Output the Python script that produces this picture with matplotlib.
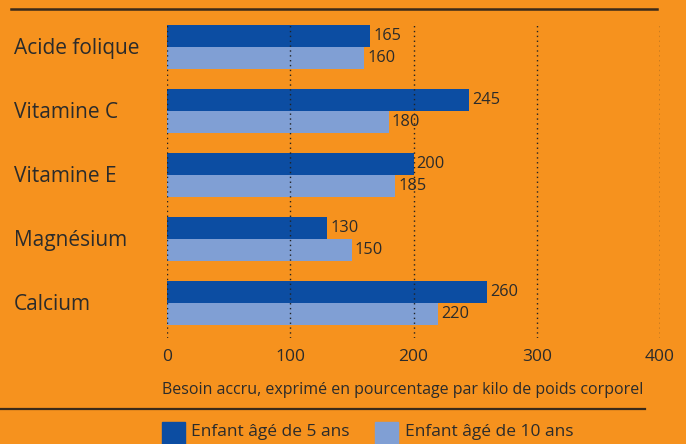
import matplotlib.pyplot as plt
from matplotlib.patches import Rectangle
from matplotlib.lines import Line2D
import matplotlib.transforms as mtransforms

categories = ['Acide folique', 'Vitamine C', 'Vitamine E', 'Magnésium', 'Calcium']
age5 = [165, 245, 200, 130, 260]
age10 = [160, 180, 185, 150, 220]
ticks = [0, 100, 200, 300, 400]
series_names = ['Enfant âgé de 5 ans', 'Enfant âgé de 10 ans']

bg = '#F6921E'
dark = '#0C4DA2'
light = '#809FD4'
txt = '#2b2b2b'

plt.rcParams['font.family'] = ['Open Sans', 'DejaVu Sans']

fig = plt.figure(figsize=(6.86, 4.44), dpi=100, facecolor=bg)
W, H = 686, 444
ax = fig.add_axes([167 / W, 1 - 338 / H, (660 - 167) / W, (338 - 22) / H])
ax.set_facecolor(bg)

h = 0.345
y = list(range(len(categories)))
ax.barh([v - h / 2 for v in y], age5, height=h, color=dark, zorder=2)
ax.barh([v + h / 2 for v in y], age10, height=h, color=light, zorder=2)

for i in y:
    ax.text(age5[i] + 2.5, i - h / 2, str(age5[i]), va='center', ha='left',
            fontsize=11.8, color=txt, zorder=4)
    ax.text(age10[i] + 2.5, i + h / 2, str(age10[i]), va='center', ha='left',
            fontsize=11.8, color=txt, zorder=4)

ax.set_xlim(0, 400)
ax.set_ylim(len(categories) - 0.45, -0.39)
ax.set_xticks(ticks)
ax.set_yticks([])
for t in ticks:
    ax.axvline(t, color='#222222', linestyle=(0, (1, 2.5)), linewidth=1.0, zorder=3)
for s in ax.spines.values():
    s.set_visible(False)
ax.tick_params(axis='x', length=0, pad=8, labelsize=12.5, labelcolor=txt)
ax.set_xlabel('Besoin accru, exprimé en pourcentage par kilo de poids corporel',
              fontsize=11.5, color=txt, loc='left')
ax.xaxis.set_label_coords(-5 / 493, -52 / 316)
ax.xaxis.label.set_va('center')

trans = mtransforms.blended_transform_factory(fig.transFigure, ax.transData)
for i, name in enumerate(categories):
    ax.text(14 / W, i + 0.02, name, transform=trans, ha='left', va='center',
            fontsize=15, color=txt)

fig.add_artist(Line2D([11 / W, 657 / W], [1 - 9 / H, 1 - 9 / H], color='#3a2a1a', linewidth=1.8))
fig.add_artist(Line2D([0, 645 / W], [1 - 409 / H, 1 - 409 / H], color='#3a2a1a', linewidth=1.6))

fig.add_artist(Rectangle((162 / W, 0), 23 / W, 22 / H, transform=fig.transFigure, color=dark))
fig.text(191 / W, 12 / H, series_names[0], fontsize=12.5, color=txt, va='center', ha='left')
fig.add_artist(Rectangle((375 / W, 0), 23 / W, 22 / H, transform=fig.transFigure, color=light))
fig.text(405 / W, 12 / H, series_names[1], fontsize=12.5, color=txt, va='center', ha='left')

fig.savefig('out.png', dpi=100, facecolor=bg)
